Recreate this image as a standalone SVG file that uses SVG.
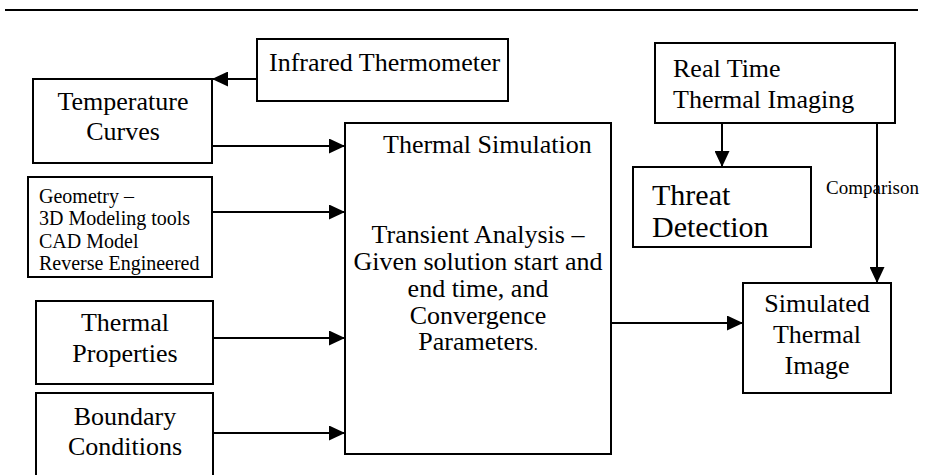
<svg xmlns="http://www.w3.org/2000/svg" width="925" height="475" viewBox="0 0 925 475">
  <style>
    .box { fill: #fff; stroke: #000; stroke-width: 2; }
    .wire { fill: none; stroke: #000; stroke-width: 2; }
    text { font-family: "Liberation Serif", "Times New Roman", serif; fill: #000; }
    .t26 { font-size: 26px; }
    .t20 { font-size: 20px; }
    .t30 { font-size: 30px; }
    .t19 { font-size: 19px; }
    .mid { text-anchor: middle; }
  </style>
  <defs>
    <marker id="arrow" markerUnits="userSpaceOnUse" markerWidth="16" markerHeight="15" refX="16" refY="7.5" orient="auto">
      <path d="M0,0 L16,7.5 L0,15 z" fill="#000"/>
    </marker>
  </defs>

  <rect width="925" height="475" fill="#fff"/>

  <!-- page rule -->
  <line x1="5" y1="10" x2="918" y2="10" stroke="#000" stroke-width="2"/>

  <!-- connectors -->
  <g id="connectors">
    <line class="wire" x1="257" y1="79" x2="212" y2="79" marker-end="url(#arrow)"/>
    <line class="wire" x1="212" y1="146" x2="345" y2="146" marker-end="url(#arrow)"/>
    <line class="wire" x1="212" y1="212" x2="345" y2="212" marker-end="url(#arrow)"/>
    <line class="wire" x1="213" y1="338" x2="345" y2="338" marker-end="url(#arrow)"/>
    <line class="wire" x1="213" y1="433" x2="345" y2="433" marker-end="url(#arrow)"/>
    <line class="wire" x1="611" y1="323" x2="743" y2="323" marker-end="url(#arrow)"/>
    <line class="wire" x1="722" y1="123" x2="722" y2="167" marker-end="url(#arrow)"/>
    <line class="wire" x1="877" y1="123" x2="877" y2="283" marker-end="url(#arrow)"/>
    <text class="t19" x="826" y="194">Comparison</text>
  </g>

  <g id="infrared-thermometer">
    <rect class="box" x="257" y="39" width="251" height="62"/>
    <text class="t26" x="269" y="71">Infrared Thermometer</text>
  </g>

  <g id="temperature-curves">
    <rect class="box" x="33" y="79" width="179" height="84"/>
    <text class="t26 mid" x="123" y="110">Temperature</text>
    <text class="t26 mid" x="123" y="140">Curves</text>
  </g>

  <g id="geometry">
    <rect class="box" x="28" y="177" width="184" height="100"/>
    <text class="t20" x="39" y="203">Geometry –</text>
    <text class="t20" x="39" y="225">3D Modeling tools</text>
    <text class="t20" x="39" y="248">CAD Model</text>
    <text class="t20" x="39" y="270">Reverse Engineered</text>
  </g>

  <g id="thermal-properties">
    <rect class="box" x="36" y="301" width="177" height="83"/>
    <text class="t26 mid" x="125" y="331">Thermal</text>
    <text class="t26 mid" x="125" y="362">Properties</text>
  </g>

  <g id="boundary-conditions">
    <rect class="box" x="36" y="393" width="177" height="90"/>
    <text class="t26 mid" x="125" y="425">Boundary</text>
    <text class="t26 mid" x="125" y="455">Conditions</text>
  </g>

  <g id="thermal-simulation">
    <rect class="box" x="345" y="123" width="266" height="331"/>
    <text class="t26" x="383" y="153">Thermal Simulation</text>
    <text class="t26 mid" x="478" y="243">Transient Analysis –</text>
    <text class="t26 mid" x="478" y="270">Given solution start and</text>
    <text class="t26 mid" x="478" y="297">end time, and</text>
    <text class="t26 mid" x="478" y="324">Convergence</text>
    <text class="t26 mid" x="478" y="350">Parameters<tspan font-size="16px">.</tspan></text>
  </g>

  <g id="real-time-thermal-imaging">
    <rect class="box" x="655" y="43" width="240" height="80"/>
    <text class="t26" x="673" y="77">Real Time</text>
    <text class="t26" x="673" y="108">Thermal Imaging</text>
  </g>

  <g id="threat-detection">
    <rect class="box" x="633" y="167" width="178" height="80"/>
    <text class="t30" x="652" y="205">Threat</text>
    <text class="t30" x="652" y="237">Detection</text>
  </g>

  <g id="simulated-thermal-image">
    <rect class="box" x="743" y="283" width="148" height="110"/>
    <text class="t26 mid" x="817" y="312">Simulated</text>
    <text class="t26 mid" x="817" y="343">Thermal</text>
    <text class="t26 mid" x="817" y="374">Image</text>
  </g>
</svg>
